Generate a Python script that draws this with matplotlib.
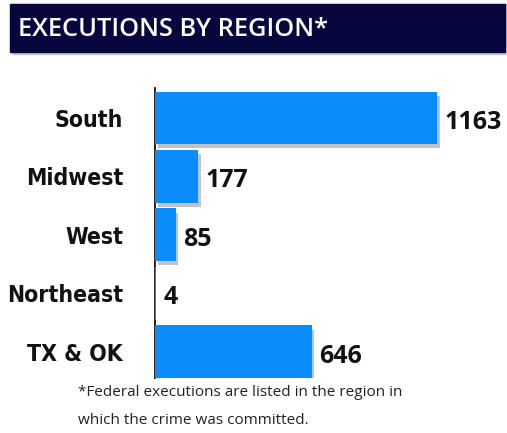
import numpy as np
import matplotlib
matplotlib.use('Agg')
import matplotlib.pyplot as plt
import matplotlib.patheffects as pe
from matplotlib.patches import Rectangle

# data
regions = ['South', 'Midwest', 'West', 'Northeast', 'TX & OK']
executions = [1163, 177, 85, 4, 646]

TITLE = 'EXECUTIONS BY REGION*'
NOTE = ['*Federal executions are listed in the region in',
        'which the crime was committed.']

W, H = 507, 433
fig = plt.figure(figsize=(W / 100, H / 100), dpi=100)


def fx(px):
    return px / W


def fy(py):
    return 1 - py / H


# title banner
fig.patches.append(Rectangle((fx(12), fy(54)), fx(495), 50 / H, transform=fig.transFigure,
                             color='#c8c8d0', zorder=0))
fig.patches.append(Rectangle((fx(10), fy(52)), fx(495), 48 / H, transform=fig.transFigure,
                             color='#07073f', zorder=1))
fig.text(fx(18), fy(29), TITLE, color='white', fontsize=18.3, fontweight='semibold',
         family='Open Sans', va='center', ha='left', zorder=2)

left, right = 155, 500
top, bottom = 88, 378
ax = fig.add_axes([fx(left), fy(bottom), (right - left) / W, (bottom - top) / H])

y = np.arange(len(regions))
bars = ax.barh(y, executions, height=0.9, color='#0a8cfb', zorder=3)
shadow = [pe.SimplePatchShadow(offset=(2, -3), shadow_rgbFace='#505050', alpha=0.35), pe.Normal()]
for b, v in zip(bars, executions):
    if v > 20:
        b.set_path_effects(shadow)

ax.set_xlim(0, 1163 * (right - left) / 282)
ax.set_ylim(4.45, -0.51)

for yi, v in zip(y, executions):
    ax.text(v + 30, yi + 0.08, str(v), va='center', ha='left', fontsize=18,
            fontweight='bold', family='Open Sans', color='#111111')

ax.set_yticks(y)
ax.set_yticklabels(regions, fontsize=16.5, fontweight='bold', family='DejaVu Sans',
                   fontstretch='condensed', color='#111111')
ax.tick_params(axis='y', length=0, pad=23)
ax.set_xticks([])
for s in ['top', 'right', 'bottom']:
    ax.spines[s].set_visible(False)
ax.spines['left'].set_linewidth(1.3)
ax.spines['left'].set_color('#111111')
ax.patch.set_visible(False)

for line, py in zip(NOTE, [392, 421]):
    fig.text(fx(78), fy(py), line, fontsize=11, family='Open Sans', color='#222222',
             va='center', ha='left')

fig.savefig('out.png', dpi=100)
